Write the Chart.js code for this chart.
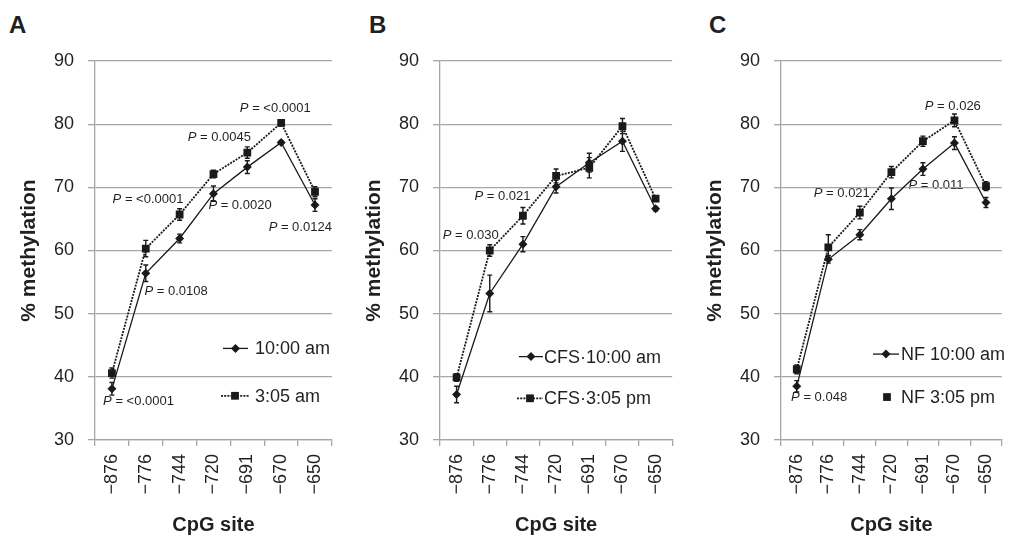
<!doctype html>
<html lang="en">
<head>
<meta charset="utf-8">
<title>CpG site methylation</title>
<style>
  * { margin: 0; padding: 0; }
  body {
    width: 1016px;
    height: 539px;
    background: #fff;
    position: relative;
    overflow: hidden;
    font-family: 'Liberation Sans', Arial, sans-serif;
  }
  canvas { position: absolute; top: 0; }
  .panel {
    position: absolute;
    top: 13px;
    font-size: 24px;
    line-height: 24px;
    font-weight: bold;
    color: #231f20;
  }
</style>
</head>
<body>
<div class="panel" style="left:9px">A</div>
<div class="panel" style="left:369px">B</div>
<div class="panel" style="left:709px">C</div>
<canvas id="chartA" width="345" height="539" style="left:0"></canvas>
<canvas id="chartB" width="341" height="539" style="left:345px"></canvas>
<canvas id="chartC" width="330" height="539" style="left:686px"></canvas>

<script src="https://cdn.jsdelivr.net/npm/chart.js"></script>
<script>
// data
const sites = ['\u2212876', '\u2212776', '\u2212744', '\u2212720', '\u2212691', '\u2212670', '\u2212650'];

// A
const amA    = [38.1, 56.4, 61.9, 69.0, 73.2, 77.1, 67.2];
const amAErr = [1.0, 1.3, 0.7, 1.2, 1.0, 0.3, 1.0];
const pmA    = [40.6, 60.3, 65.7, 72.1, 75.5, 80.2, 69.3];
const pmAErr = [0.8, 1.3, 0.9, 0.6, 0.9, 0.5, 0.8];
const namesA = ['10:00 am', '3:05 am'];
const pA     = ['<0.0001', '0.0045', '<0.0001', '0.0020', '0.0124', '0.0108', '<0.0001'];

// B
const amB    = [37.2, 53.2, 61.0, 70.1, 73.9, 77.3, 66.6];
const amBErr = [1.3, 2.9, 1.2, 1.0, 1.5, 1.6, 0.3];
const pmB    = [39.9, 60.0, 65.5, 71.8, 73.1, 79.7, 68.2];
const pmBErr = [0.6, 0.9, 1.3, 1.1, 1.6, 1.2, 0.4];
const namesB = ['CFS\u00b710:00 am', 'CFS\u00b73:05 pm'];
const pB     = ['0.021', '0.030'];

// C
const amC    = [38.5, 58.6, 62.5, 68.2, 72.9, 77.0, 67.6];
const amCErr = [0.9, 0.6, 0.8, 1.7, 1.0, 1.0, 0.8];
const pmC    = [41.2, 60.5, 66.0, 72.4, 77.3, 80.6, 70.2];
const pmCErr = [0.7, 2.0, 1.0, 0.9, 0.8, 1.0, 0.7];
const namesC = ['NF 10:00 am', 'NF 3:05 pm'];
const pC     = ['0.026', '0.021', '0.011', '0.048'];

const INK = '#231f20';
const GRID = '#a6a6a6';
const LINE = '#1a1a1a';
Chart.defaults.font.family = "'Liberation Sans', Arial, sans-serif";

// where the P labels and legend sit (category index / axis value), plus legend sample offsets
const panels = {
  chartA: {
    am: amA, amErr: amAErr, pm: pmA, pmErr: pmAErr, names: namesA, padRight: 3,
    notes: pA, notePos: [[3.78, 82.5], [2.24, 77.9], [0.02, 68.1], [2.85, 67.1], [4.63, 63.6], [0.96, 53.5], [-0.26, 36.1]],
    legend: { rows: [44.5, 37.0], line: [[128, 153], [126, 154]], text: 160, pmLine: true }
  },
  chartB: {
    am: amB, amErr: amBErr, pm: pmB, pmErr: pmBErr, names: namesB, padRight: 11,
    notes: pB, notePos: [[0.54, 68.5], [-0.42, 62.4]],
    legend: { rows: [43.2, 36.6], line: [[79, 103], [77, 103]], text: 104, pmLine: true }
  },
  chartC: {
    am: amC, amErr: amCErr, pm: pmC, pmErr: pmCErr, names: namesC, padRight: 0,
    notes: pC, notePos: [[4.06, 82.8], [0.54, 69.1], [3.54, 70.3], [-0.18, 36.8]],
    legend: { rows: [43.6, 36.8], line: [[92, 118], [106, 106]], text: 120, pmLine: false }
  }
};

function drawNote(ctx, x, y, txt) {
  ctx.font = "italic 13px 'Liberation Sans', Arial, sans-serif";
  ctx.fillText('P', x, y);
  const w = ctx.measureText('P').width;
  ctx.font = "13px 'Liberation Sans', Arial, sans-serif";
  ctx.fillText(' = ' + txt, x + w, y);
}

const overlay = {
  id: 'overlay',
  beforeDraw(chart) {
    // P labels go under the grid lines, as in the figure
    const p = panels[chart.canvas.id];
    const xs = chart.scales.x, ys = chart.scales.y;
    const ctx = chart.ctx;
    ctx.save();
    ctx.fillStyle = INK;
    ctx.textAlign = 'left';
    ctx.textBaseline = 'middle';
    p.notes.forEach((t, i) => {
      drawNote(ctx, xs.getPixelForValue(p.notePos[i][0]), ys.getPixelForValue(p.notePos[i][1]), t);
    });
    ctx.restore();
  },
  afterDatasetsDraw(chart) {
    const p = panels[chart.canvas.id];
    const xs = chart.scales.x, ys = chart.scales.y;
    const ctx = chart.ctx;
    ctx.save();
    // error bars
    ctx.strokeStyle = LINE;
    ctx.lineWidth = 1.4;
    [[p.am, p.amErr], [p.pm, p.pmErr]].forEach(([vals, errs]) => {
      vals.forEach((v, i) => {
        const x = xs.getPixelForValue(i);
        const top = ys.getPixelForValue(v + errs[i]);
        const bot = ys.getPixelForValue(v - errs[i]);
        ctx.beginPath();
        ctx.moveTo(x, top); ctx.lineTo(x, bot);
        ctx.moveTo(x - 2.5, top); ctx.lineTo(x + 2.5, top);
        ctx.moveTo(x - 2.5, bot); ctx.lineTo(x + 2.5, bot);
        ctx.stroke();
      });
    });
    // legend
    const lg = p.legend;
    const left = chart.chartArea.left;
    const styles = [
      { dash: [], width: 1.3, point: 'rectRot', r: 4.5, line: true },
      { dash: [2, 1.2], width: 1.8, point: 'rect', r: 5.5, line: lg.pmLine }
    ];
    styles.forEach((s, i) => {
      const y = ys.getPixelForValue(lg.rows[i]);
      const [x1, x2] = lg.line[i];
      if (s.line) {
        ctx.beginPath();
        ctx.setLineDash(s.dash);
        ctx.lineWidth = s.width;
        ctx.moveTo(left + x1, y);
        ctx.lineTo(left + x2, y);
        ctx.stroke();
        ctx.setLineDash([]);
      }
      ctx.fillStyle = LINE;
      Chart.helpers.drawPoint(ctx, { pointStyle: s.point, radius: s.r, rotation: 0, borderWidth: 0 },
        left + (x1 + x2) / 2, y);
      ctx.fillStyle = INK;
      ctx.font = "18px 'Liberation Sans', Arial, sans-serif";
      ctx.textAlign = 'left';
      ctx.textBaseline = 'middle';
      ctx.fillText(p.names[i], left + lg.text, y + 1);
    });
    ctx.restore();
  }
};

function makeChart(id) {
  const p = panels[id];
  return new Chart(document.getElementById(id), {
    type: 'line',
    data: {
      labels: sites,
      datasets: [
        {
          label: p.names[0], data: p.am,
          borderColor: LINE, backgroundColor: LINE, borderWidth: 1.3,
          pointStyle: 'rectRot', pointRadius: 4.5, pointBorderWidth: 0, tension: 0
        },
        {
          label: p.names[1], data: p.pm,
          borderColor: LINE, backgroundColor: LINE, borderWidth: 1.8, borderDash: [2, 1.2],
          pointStyle: 'rect', pointRadius: 5.5, pointBorderWidth: 0, tension: 0
        }
      ]
    },
    options: {
      responsive: false,
      animation: false,
      layout: { padding: { top: 61, right: p.padRight, left: 0, bottom: 0 } },
      plugins: { legend: { display: false }, tooltip: { enabled: false } },
      scales: {
        x: {
          offset: true,
          grid: { offset: true, drawOnChartArea: false, tickLength: 6, color: GRID, lineWidth: 1.3 },
          border: { color: GRID, width: 1.3 },
          ticks: { minRotation: 90, maxRotation: 90, padding: 8, color: INK, font: { size: 18 } },
          title: { display: true, text: 'CpG site', color: INK, font: { size: 20, weight: 'bold' }, padding: { top: 0, bottom: 2 } },
          afterFit(s) { s.height = 99; }
        },
        y: {
          min: 30, max: 90,
          ticks: { stepSize: 10, padding: 14, color: INK, font: { size: 18 } },
          grid: { color: GRID, lineWidth: 1.3, tickLength: 7 },
          border: { color: GRID, width: 1.3 },
          title: { display: true, text: '% methylation', color: INK, font: { size: 21, weight: 'bold' }, padding: { top: 17, bottom: 0 } },
          afterFit(s) { s.width = 95; }
        }
      }
    },
    plugins: [overlay]
  });
}

makeChart('chartA');
makeChart('chartB');
makeChart('chartC');
</script>
</body>
</html>
